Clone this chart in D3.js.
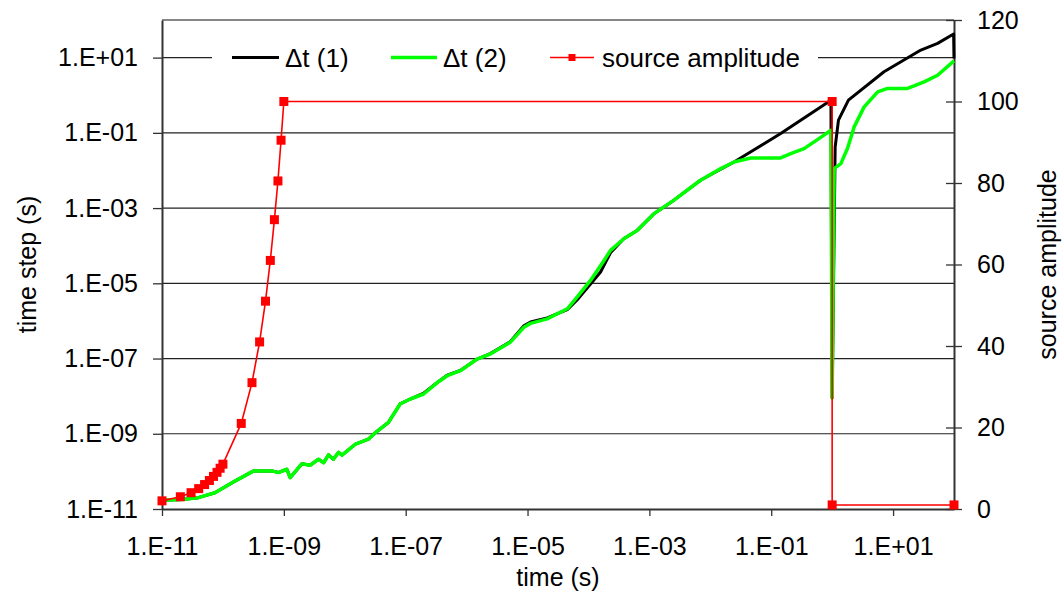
<!DOCTYPE html>
<html>
<head>
<meta charset="utf-8">
<script src="https://cdn.jsdelivr.net/npm/d3@7"></script>
<style>
  body { margin: 0; background: #fff; }
  svg text { font-family: "Liberation Sans", Arial, sans-serif; fill: #000; }
</style>
</head>
<body>
<script>
// time (s), time step (s)  -- dt(1)
const dt1 = [
  [1e-11,1.7e-11],[2.1e-11,1.8e-11],[3.95e-11,2.0e-11],[7.4e-11,2.7e-11],[1.6e-10,5.6e-11],
  [3.2e-10,1.03e-10],[6.4e-10,1.03e-10],[8.1e-10,9.3e-11],[1.12e-9,1.14e-10],[1.27e-9,6.8e-11],
  [1.98e-9,1.6e-10],[2.7e-9,1.46e-10],[3.7e-9,2.1e-10],[4.5e-9,1.7e-10],[5.4e-9,2.75e-10],
  [6.5e-9,2.1e-10],[7.9e-9,3.2e-10],[9e-9,2.7e-10],[1.5e-8,5.3e-10],[2.45e-8,7.2e-10],
  [3.2e-8,1.08e-9],[5.2e-8,2.0e-9],[8.1e-8,6.2e-9],[1.19e-7,8.4e-9],[1.97e-7,1.2e-8],
  [3.3e-7,2.3e-8],[4.8e-7,3.6e-8],[7.9e-7,4.8e-8],[1.49e-6,9.7e-8],[2.45e-6,1.35e-7],
  [5.2e-6,2.8e-7],[8.7e-6,7.4e-7],[1.12e-5,9.4e-7],[2.1e-5,1.2e-6],[4.5e-5,2.0e-6],
  [6.5e-5,3.6e-6],[1.08e-4,9.5e-6],[1.58e-4,2.0e-5],[2.3e-4,6.5e-5],[3.8e-4,1.53e-4],
  [6.3e-4,2.55e-4],[1.19e-3,7.1e-4],[2.5e-3,1.6e-3],[6.9e-3,5.5e-3],[2.45e-2,1.68e-2],
  [0.143,0.096],[0.955,0.74],[1.0,9e-9],[1.12,0.042],[1.27,0.217],[1.85,0.74],
  [7.1,4.2],[28.6,15.9],[53.8,23.9],[98.6,42.4],[100,9.5]
];
// dt(2)
const dt2 = [
  [1e-11,1.7e-11],[2.1e-11,1.8e-11],[3.95e-11,2.0e-11],[7.4e-11,2.7e-11],[1.6e-10,5.6e-11],
  [3.2e-10,1.03e-10],[6.4e-10,1.03e-10],[8.1e-10,9.3e-11],[1.12e-9,1.14e-10],[1.27e-9,6.8e-11],
  [1.98e-9,1.6e-10],[2.7e-9,1.46e-10],[3.7e-9,2.1e-10],[4.5e-9,1.7e-10],[5.4e-9,2.75e-10],
  [6.5e-9,2.1e-10],[7.9e-9,3.2e-10],[9e-9,2.7e-10],[1.5e-8,5.3e-10],[2.45e-8,7.2e-10],
  [3.2e-8,1.08e-9],[5.2e-8,2.0e-9],[8.1e-8,6.2e-9],[1.19e-7,8.4e-9],[1.97e-7,1.14e-8],
  [3.3e-7,2.3e-8],[4.8e-7,3.5e-8],[7.9e-7,4.75e-8],[1.49e-6,9.7e-8],[2.45e-6,1.32e-7],
  [5.2e-6,2.7e-7],[8.7e-6,6.8e-7],[1.12e-5,8.6e-7],[2.1e-5,1.13e-6],[4.5e-5,2.1e-6],
  [6.5e-5,4.3e-6],[1.08e-4,1.19e-5],[1.79e-4,4.0e-5],[2.3e-4,7.5e-5],[3.8e-4,1.53e-4],
  [6.3e-4,2.55e-4],[1.19e-3,7.1e-4],[2.5e-3,1.6e-3],[6.9e-3,5.5e-3],[1.48e-2,1.12e-2],
  [2.45e-2,1.68e-2],[4.6e-2,2.15e-2],[0.143,2.15e-2],[0.209,2.8e-2],[0.346,3.8e-2],
  [0.574,6.6e-2],[0.955,0.117],[1.0,9e-9],[1.08,1.12e-2],[1.39,1.52e-2],[1.79,3.9e-2],
  [2.3,0.144],[3.35,0.49],[5.6,1.23],[8.1,1.52],[17.3,1.52],[32.4,2.27],[53.8,3.4],[100,8.2]
];
// source amplitude (right axis)
const sourceAmp = [
  [1e-11,2],[2e-11,3],[3e-11,4],[4e-11,5],[5e-11,6],[6e-11,7],[7e-11,8],[8e-11,9],[9e-11,10],[1e-10,11],
  [2e-10,21],[3e-10,31],[4e-10,41],[5e-10,51],[6e-10,61],[7e-10,71],[8e-10,80.5],[9e-10,90.5],[1e-9,100],
  [1,100],[1,1],[100,1]
];
const xTicks = [1e-11,1e-9,1e-7,1e-5,1e-3,1e-1,1e1];
const yTicks = [1e-11,1e-9,1e-7,1e-5,1e-3,1e-1,1e1];
const yRightTicks = [0,20,40,60,80,100,120];
const seriesNames = ['\u0394t (1)','\u0394t (2)','source amplitude'];

const W = 1064, H = 595;
const L = 162, R = 954, T = 20, B = 509;

const svg = d3.select('body').append('svg').attr('width',W).attr('height',H);

const x = d3.scaleLog().domain([1e-11,1e2]).range([L,R]);
const y = d3.scaleLog().domain([1e-11,1e2]).range([B,T]);
const y2 = d3.scaleLinear().domain([0,120]).range([B,T]);

const expFmt = d => {
  const e = Math.round(Math.log10(d));
  return '1.E' + (e < 0 ? '-' : '+') + String(Math.abs(e)).padStart(2,'0');
};

// gridlines
svg.append('g').selectAll('line').data(yTicks.slice(1)).enter().append('line')
  .attr('x1',L).attr('x2',R).attr('y1',d=>y(d)).attr('y2',d=>y(d))
  .attr('stroke','#222').attr('stroke-width',1.2);
svg.append('line').attr('x1',L).attr('x2',R).attr('y1',T).attr('y2',T)
  .attr('stroke','#111').attr('stroke-width',1.2);

// axes
const gx = svg.append('g').attr('transform','translate(0,'+B+')')
  .call(d3.axisBottom(x).tickValues(xTicks).tickFormat(expFmt).tickSize(7).tickSizeOuter(0).tickPadding(21));
const gy = svg.append('g').attr('transform','translate('+L+',0)')
  .call(d3.axisLeft(y).tickValues(yTicks).tickFormat(expFmt).tickSize(9).tickSizeOuter(0).tickPadding(15));
const gy2 = svg.append('g').attr('transform','translate('+R+',0)')
  .call(d3.axisRight(y2).tickValues(yRightTicks).tickSize(8).tickSizeOuter(0).tickPadding(15));
gy2.selectAll('.tick line').attr('x1',-8);
[gx,gy,gy2].forEach(g=>{
  g.select('.domain').attr('stroke','#333').attr('stroke-width',2);
  g.selectAll('.tick line').attr('stroke','#333').attr('stroke-width',1.3);
  g.selectAll('text').style('font-size','25px').style('font-family','"Liberation Sans", Arial, sans-serif').attr('fill','#000');
});

// series
const line1 = d3.line().x(d=>x(d[0])).y(d=>y(d[1]));
const line2 = d3.line().x(d=>x(d[0])).y(d=>y2(d[1]));

svg.append('path').datum(dt1).attr('d',line1).attr('fill','none')
  .attr('stroke','#000').attr('stroke-width',3).attr('stroke-linejoin','round');
svg.append('path').datum(dt2).attr('d',line1).attr('fill','none')
  .attr('stroke','#00ff00').attr('stroke-width',3.5).attr('stroke-linejoin','round');
svg.append('path').datum(sourceAmp).attr('d',line2).attr('fill','none')
  .attr('stroke','#ff0000').attr('stroke-width',1.6);
svg.append('g').selectAll('rect').data(sourceAmp).enter().append('rect')
  .attr('x',d=>x(d[0])-4.5).attr('y',d=>y2(d[1])-4.5)
  .attr('width',9).attr('height',9).attr('fill','#ff0000');

// legend
const lg = svg.append('g').attr('id','legend');
lg.append('rect').attr('x',212).attr('y',38).attr('width',606).attr('height',40).attr('fill','#fff');
const legItems = [
  {name:seriesNames[0], color:'#000', w:3, x0:232, x1:279, tx:285, marker:false},
  {name:seriesNames[1], color:'#00ff00', w:3.5, x0:391, x1:437, tx:443, marker:false},
  {name:seriesNames[2], color:'#ff0000', w:1.6, x0:550, x1:594, tx:602, marker:true}
];
const ly = 57.5;
legItems.forEach(it=>{
  lg.append('line').attr('x1',it.x0).attr('x2',it.x1).attr('y1',ly).attr('y2',ly)
    .attr('stroke',it.color).attr('stroke-width',it.w);
  if (it.marker) lg.append('rect').attr('x',(it.x0+it.x1)/2-3.5).attr('y',ly-3.5)
    .attr('width',7).attr('height',7).attr('fill',it.color);
  lg.append('text').attr('x',it.tx).attr('y',ly).attr('dy','0.35em')
    .style('font-size','26px').text(it.name);
});

// axis titles
svg.append('text').attr('x',(L+R)/2).attr('y',586).attr('text-anchor','middle')
  .style('font-size','25px').text('time (s)');
svg.append('text').attr('transform','translate(36,'+((T+B)/2)+') rotate(-90)')
  .attr('text-anchor','middle').style('font-size','25px').text('time step (s)');
svg.append('text').attr('transform','translate(1056,'+((T+B)/2)+') rotate(-90)')
  .attr('text-anchor','middle').style('font-size','25px').text('source amplitude');
</script>
</body>
</html>
